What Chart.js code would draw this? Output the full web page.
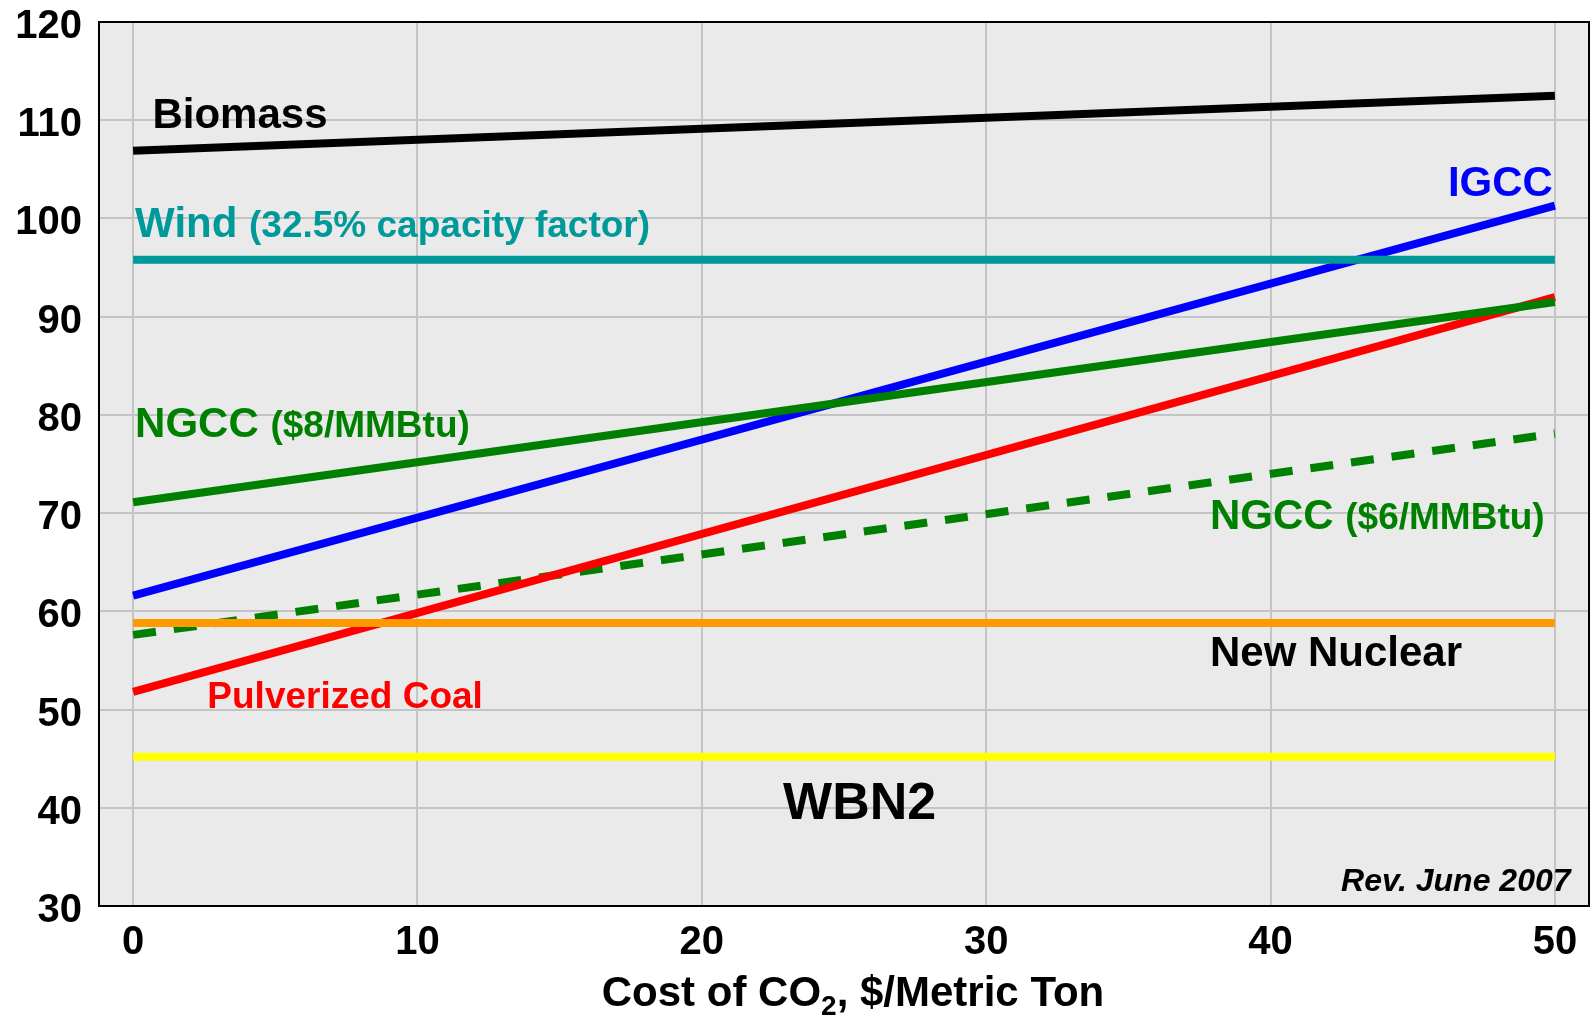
<!DOCTYPE html>
<html>
<head>
<meta charset="utf-8">
<script src="https://cdn.jsdelivr.net/npm/chart.js@4.4.1/dist/chart.umd.min.js"></script>
<style>
  html, body { margin: 0; padding: 0; background: #fff; }
  #wrap { width: 1593px; height: 1018px; }
</style>
</head>
<body>
<div id="wrap"><canvas id="chart"></canvas></div>
<script>
// cost of CO2 ($/metric ton) and levelized cost per technology
const costs = [0, 50];
const biomass = [106.9, 112.5];
const wind = [95.8, 95.8];
const igcc = [61.6, 101.3];
const ngcc8 = [71.1, 91.5];
const ngcc6 = [57.6, 78.1];
const nuclear = [58.8, 58.8];
const coal = [51.8, 92.0];
const wbn2 = [45.2, 45.2];

const xTicks = [0, 10, 20, 30, 40, 50];

const FONT = "'Liberation Sans', Arial, sans-serif";

// text labels placed in data units: [parts, colour, x, y, align]
const labels = [
  { parts: [['Biomass', 42]], color: '#000', x: 0.68, y: 109.2, align: 'left' },
  { parts: [['Wind ', 42], ['(32.5% capacity factor)', 37]], color: '#009999', x: 0.07, y: 98.1, align: 'left' },
  { parts: [['IGCC', 42]], color: '#0000ff', x: 49.93, y: 102.3, align: 'right' },
  { parts: [['NGCC ', 42], ['($8/MMBtu)', 37]], color: '#008000', x: 0.07, y: 77.7, align: 'left' },
  { parts: [['NGCC ', 42], ['($6/MMBtu)', 37]], color: '#008000', x: 37.87, y: 68.4, align: 'left' },
  { parts: [['New Nuclear', 42]], color: '#000', x: 37.87, y: 54.4, align: 'left' },
  { parts: [['Pulverized Coal', 37]], color: '#ff0000', x: 2.61, y: 50.2, align: 'left' },
  { parts: [['WBN2', 52]], color: '#000', x: 25.55, y: 38.9, align: 'center' },
  { parts: [['Rev. June 2007', 32]], color: '#000', x: 50.55, y: 31.5, align: 'right', italic: true }
];

function series(vals) {
  return vals.map((v, i) => ({ x: costs[i], y: v }));
}

const plotStyle = {
  id: 'plotStyle',
  beforeDraw(chart) {
    const { ctx, chartArea: a } = chart;
    ctx.save();
    ctx.fillStyle = '#eaeaea';
    ctx.fillRect(a.left, a.top, a.right - a.left, a.bottom - a.top);
    ctx.restore();
  },
  afterDraw(chart) {
    const { ctx, chartArea: a } = chart;
    ctx.save();
    ctx.strokeStyle = '#000';
    ctx.lineWidth = 2;
    ctx.strokeRect(a.left, a.top, a.right - a.left, a.bottom - a.top);

    // axis title with subscript
    const title = [['Cost of CO', 42, 0], ['2', 28, 9], [', $/Metric Ton', 42, 0]];
    let total = 0;
    title.forEach(([t, s]) => { ctx.font = `bold ${s}px ${FONT}`; total += ctx.measureText(t).width; });
    let x = 853 - total / 2;
    ctx.fillStyle = '#000';
    ctx.textBaseline = 'alphabetic';
    ctx.textAlign = 'left';
    title.forEach(([t, s, dy]) => {
      ctx.font = `bold ${s}px ${FONT}`;
      ctx.fillText(t, x, 1006 + dy);
      x += ctx.measureText(t).width;
    });
    ctx.restore();
  },
  afterDatasetsDraw(chart) {
    const { ctx, scales } = chart;
    ctx.save();
    ctx.textBaseline = 'alphabetic';
    ctx.textAlign = 'left';
    labels.forEach((lb) => {
      const style = lb.italic ? 'italic bold' : 'bold';
      let w = 0;
      lb.parts.forEach(([t, s]) => { ctx.font = `${style} ${s}px ${FONT}`; w += ctx.measureText(t).width; });
      let x = scales.x.getPixelForValue(lb.x);
      if (lb.align === 'right') x -= w;
      if (lb.align === 'center') x -= w / 2;
      const y = scales.y.getPixelForValue(lb.y);
      ctx.fillStyle = lb.color;
      lb.parts.forEach(([t, s]) => {
        ctx.font = `${style} ${s}px ${FONT}`;
        ctx.fillText(t, x, y);
        x += ctx.measureText(t).width;
      });
    });
    ctx.restore();
  }
};

const line = (data, color, extra) => Object.assign({
  data: series(data),
  borderColor: color,
  borderWidth: 8,
  pointRadius: 0,
  tension: 0,
  fill: false
}, extra || {});

function noPad(s) {
  s.paddingTop = 0;
  s.paddingBottom = 0;
  s.paddingLeft = 0;
  s.paddingRight = 0;
}

new Chart(document.getElementById('chart'), {
  type: 'line',
  data: {
    datasets: [
      line(wind, '#009999'),
      line(ngcc8, '#008000'),
      line(nuclear, '#ff9900'),
      line(biomass, '#000000'),
      line(igcc, '#0000ff'),
      line(coal, '#ff0000'),
      line(ngcc6, '#008000', { borderDash: [23, 18] }),
      line(wbn2, '#ffff00')
    ]
  },
  options: {
    responsive: true,
    maintainAspectRatio: false,
    animation: false,
    layout: { padding: { top: 22, right: 4, left: 0, bottom: 0 } },
    plugins: { legend: { display: false }, tooltip: { enabled: false } },
    scales: {
      x: {
        type: 'linear',
        min: -1.2,
        max: 51.2,
        afterBuildTicks: (s) => { s.ticks = xTicks.map((v) => ({ value: v })); },
        afterFit: (s) => { s.height = 112; noPad(s); },
        grid: { color: '#c4c4c4', lineWidth: 2, drawTicks: false },
        border: { display: false },
        ticks: { color: '#000', padding: 13, font: { family: FONT, size: 40, weight: 'bold' } }
      },
      y: {
        min: 30,
        max: 120,
        afterFit: (s) => { s.width = 99; noPad(s); },
        grid: {
          color: (c) => (c.tick && c.tick.value % 10 === 0 ? '#c4c4c4' : '#dadada'),
          lineWidth: 2,
          drawTicks: false
        },
        border: { display: false },
        ticks: {
          stepSize: 5,
          color: '#000',
          padding: 17,
          labelOffset: 5,
          font: { family: FONT, size: 40, weight: 'bold' },
          callback: (v) => (v % 10 === 0 ? v : '')
        }
      }
    }
  },
  plugins: [plotStyle]
});
</script>
</body>
</html>
